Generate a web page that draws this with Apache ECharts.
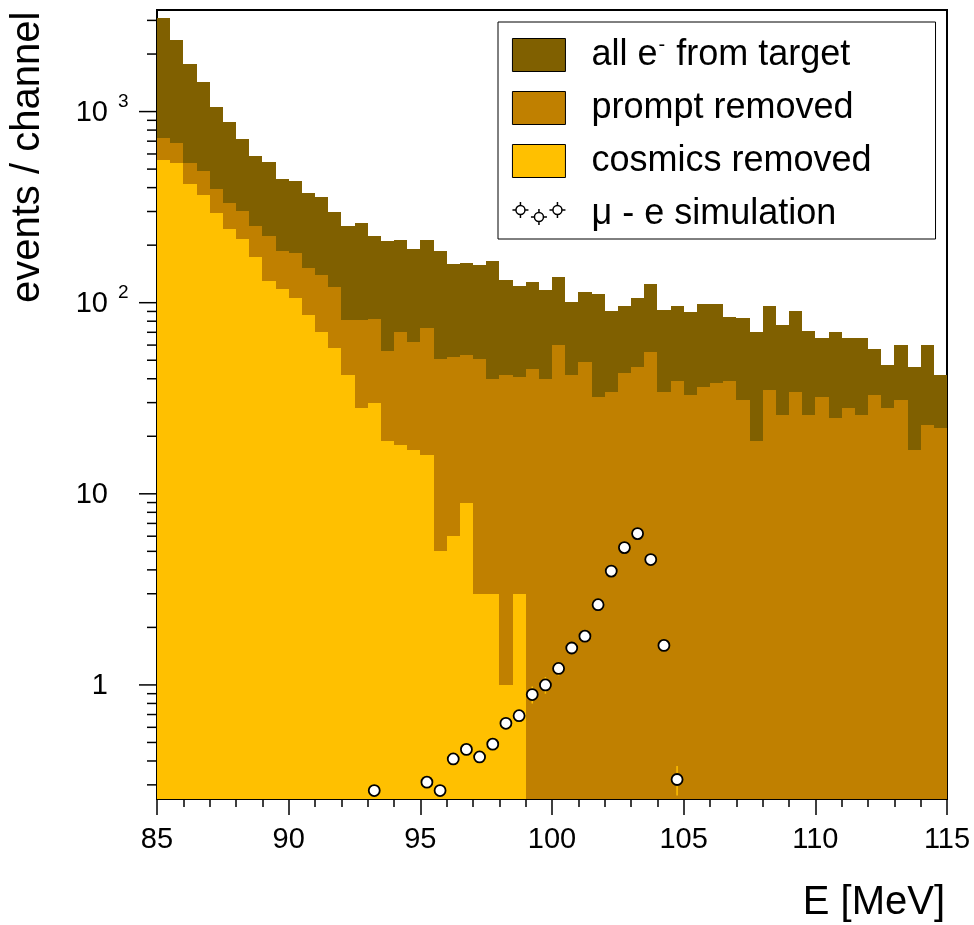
<!DOCTYPE html>
<html>
<head>
<meta charset="utf-8">
<script src="https://cdn.jsdelivr.net/npm/echarts@6.0.0/dist/echarts.min.js"></script>
<style>
  html, body { margin: 0; padding: 0; background: #fff; }
  #chart { width: 974px; height: 925px; }
</style>
</head>
<body>
<div id="chart"></div>
<script>
const FONT = '"Liberation Sans", Arial, Helvetica, sans-serif';

// histogram binning: 60 channels of 0.5 MeV from 85 MeV
const binWidth = 0.5;
const binEdges = Array.from({ length: 60 }, (_, i) => 85 + binWidth * i);

const seriesNames = ['all e- from target', 'prompt removed', 'cosmics removed', 'μ - e simulation'];

const allElectrons = [3070, 2370, 1770, 1430, 1054, 880, 717, 586, 547, 443,
  432, 374, 357, 300, 253, 262, 223, 211, 213, 192,
  213, 187, 159, 162, 158, 165, 132, 123, 128, 117,
  136, 101, 114, 111, 91, 96, 106, 125, 92, 96,
  89, 99, 98, 84, 83, 70, 96, 76, 91, 71,
  65, 70, 65, 65, 57, 47, 60, 46, 60, 42];

const promptRemoved = [731, 686, 539, 489, 394, 332, 302, 252, 224, 187,
  182, 151, 139, 121, 81, 81, 82, 56, 70, 62,
  74, 51, 52, 53, 51, 40, 42, 41, 45, 40,
  60, 42, 49, 32, 34, 43, 46, 55, 34, 39,
  33, 36, 38, 39, 31, 19, 35, 26, 34, 26,
  32, 25, 28, 26, 33, 28, 31, 17, 23, 22];

const cosmicsRemoved = [557, 537, 418, 365, 293, 242, 216, 174, 130, 118,
  106, 86, 70, 58, 42, 28, 30, 19, 18, 17,
  16, 5, 6, 9, 3, 3, 1, 3, 0, 0,
  0, 0, 0, 0, 0, 0, 0, 0, 0, 0,
  0, 0, 0, 0, 0, 0, 0, 0, 0, 0,
  0, 0, 0, 0, 0, 0, 0, 0, 0, 0];

// mu -> e conversion simulation (bin centres)
const simEnergy = [93.25, 95.25, 95.75, 96.25, 96.75, 97.25, 97.75, 98.25, 98.75, 99.25,
  99.75, 100.25, 100.75, 101.25, 101.75, 102.25, 102.75, 103.25, 103.75, 104.25, 104.75];
const simCounts = [0.28, 0.31, 0.28, 0.41, 0.46, 0.42, 0.49, 0.63, 0.69, 0.89,
  1.0, 1.22, 1.56, 1.8, 2.63, 3.94, 5.23, 6.19, 4.53, 1.61, 0.32];
const simErrors = [0.03, 0.03, 0.03, 0.04, 0.04, 0.04, 0.05, 0.06, 0.07, 0.09,
  0.1, 0.1, 0.11, 0.12, 0.14, 0.16, 0.18, 0.2, 0.17, 0.1, 0.056];

// axes
const xMin = 85, xMax = 115;
const yMin = 0.253, yMax = 3400;
const yMajorTicks = [1, 10, 100, 1000];
const yLabelBase = ['1', '10', '10', '10'];
const yLabelExp = ['', '', '2', '3'];
const yMinorTicks = [0.3, 0.4, 0.5, 0.6, 0.7, 0.8, 0.9,
  2, 3, 4, 5, 6, 7, 8, 9,
  20, 30, 40, 50, 60, 70, 80, 90,
  200, 300, 400, 500, 600, 700, 800, 900,
  2000, 3000];

const colors = ['#806000', '#c08000', '#ffc000'];

function histRender(params, api) {
  const v = api.value(1);
  if (!(v > 0)) return null;
  const lo = api.value(0);
  const a = api.coord([lo, v]);
  const b = api.coord([lo + binWidth, yMin]);
  const x0 = Math.round(a[0]), x1 = Math.round(b[0]);
  const y0 = Math.round(a[1]);
  return {
    type: 'rect',
    shape: { x: x0, y: y0, width: x1 - x0, height: b[1] - y0 },
    style: { fill: api.visual('color') }
  };
}

function tickRender(len) {
  return function (params, api) {
    const p = api.coord([api.value(0), api.value(1)]);
    return {
      type: 'line',
      shape: { x1: p[0] - len, y1: p[1], x2: p[0], y2: p[1] },
      style: { stroke: '#000', lineWidth: 1.5 }
    };
  };
}

function yLabelRender(params, api) {
  const p = api.coord([api.value(0), api.value(1)]);
  const i = params.dataIndex;
  const kids = [{
    type: 'text', x: p[0] - 49, y: p[1] + 1,
    style: { text: yLabelBase[i], font: '29px ' + FONT, fill: '#000', textAlign: 'right', textVerticalAlign: 'middle' }
  }];
  if (yLabelExp[i]) {
    kids.push({
      type: 'text', x: p[0] - 39, y: p[1] - 10,
      style: { text: yLabelExp[i], font: '19px ' + FONT, fill: '#000', textAlign: 'left', textVerticalAlign: 'middle' }
    });
  }
  return { type: 'group', children: kids };
}

function errRender(params, api) {
  const x = api.value(0), v = api.value(1), e = api.value(2);
  const hi = api.coord([x, v + e]);
  const lo = api.coord([x, Math.max(v - e, yMin)]);
  return {
    type: 'line',
    shape: { x1: hi[0], y1: hi[1], x2: lo[0], y2: lo[1] },
    style: { stroke: '#ffc000', lineWidth: 1.5 }
  };
}

function histSeries(name, values, color) {
  return {
    name: name,
    type: 'custom',
    renderItem: histRender,
    itemStyle: { color: color },
    silent: true,
    data: binEdges.map((e, i) => [e, values[i]]).filter(d => d[1] > 0)
  };
}

// legend marker for the simulation: three open circles with small bars
function circlePath(cx, cy, r) {
  return 'M' + (cx - r) + ',' + cy + 'A' + r + ',' + r + ',0,1,0,' + (cx + r) + ',' + cy +
    'A' + r + ',' + r + ',0,1,0,' + (cx - r) + ',' + cy + 'Z';
}
function markerPath(cx, cy, r, arm) {
  return circlePath(cx, cy, r) +
    'M' + (cx - arm) + ',' + cy + 'L' + (cx - r) + ',' + cy +
    'M' + (cx + r) + ',' + cy + 'L' + (cx + arm) + ',' + cy +
    'M' + cx + ',' + (cy - arm) + 'L' + cx + ',' + (cy - r) +
    'M' + cx + ',' + (cy + r) + 'L' + cx + ',' + (cy + arm);
}
const simIcon = 'path://M0,0M53,33' + markerPath(8, 12.5, 4.5, 8) + markerPath(26.5, 19.5, 4.5, 8) + markerPath(45, 12.5, 4.5, 8);

const chart = echarts.init(document.getElementById('chart'), null, { renderer: 'canvas' });

const option = {
  animation: false,
  backgroundColor: '#fff',
  grid: {
    left: 157, right: 27, top: 10, bottom: 126,
    show: true, borderColor: '#000', borderWidth: 2,
    containLabel: false, outerBoundsMode: 'none'
  },
  legend: {
    orient: 'vertical',
    left: 498, top: 22,
    padding: [13, 64, 5, 13.7],
    itemWidth: 53, itemHeight: 33, itemGap: 13,
    backgroundColor: '#fff', borderColor: '#000', borderWidth: 1,
    selectedMode: false,
    itemStyle: { borderColor: '#000', borderWidth: 1 },
    textStyle: {
      fontFamily: FONT, fontSize: 36, color: '#000', lineHeight: 40, padding: [0, 0, 0, 21],
      rich: {
        n: { fontFamily: FONT, fontSize: 36, color: '#000', lineHeight: 40 },
        s: { fontFamily: FONT, fontSize: 20, color: '#000', lineHeight: 8, verticalAlign: 'top', padding: [0, 1, 0, 1] }
      }
    },
    formatter: function (name) {
      if (name === seriesNames[0]) return '{n|all e}{s|-}{n| from target}';
      return name;
    },
    data: [
      { name: seriesNames[0], icon: 'rect' },
      { name: seriesNames[1], icon: 'rect' },
      { name: seriesNames[2], icon: 'rect' },
      { name: seriesNames[3], icon: simIcon, itemStyle: { color: '#fff', borderColor: '#000', borderWidth: 1.5 } }
    ]
  },
  xAxis: {
    type: 'value', min: xMin, max: xMax, interval: 5,
    axisLine: { show: true, onZero: false, lineStyle: { color: '#000', width: 2 } },
    axisTick: { show: true, inside: false, length: 16, lineStyle: { color: '#000', width: 1.5 } },
    minorTick: { show: true, splitNumber: 5, length: 8, lineStyle: { color: '#000', width: 1.5 } },
    axisLabel: { fontFamily: FONT, fontSize: 29, color: '#000', margin: 26 },
    splitLine: { show: false },
    minorSplitLine: { show: false }
  },
  yAxis: {
    type: 'log', logBase: 10, min: yMin, max: yMax,
    axisLine: { show: true, onZero: false, lineStyle: { color: '#000', width: 2 } },
    axisTick: { show: false },
    minorTick: { show: false },
    axisLabel: { show: false },
    splitLine: { show: false }
  },
  graphic: [
    {
      type: 'text', x: 47.8, y: 11.7, rotation: Math.PI / 2,
      style: { text: 'events / channel', font: '40px ' + FONT, fill: '#000', textAlign: 'right', textVerticalAlign: 'bottom' }
    },
    {
      type: 'text', x: 945, y: 922.8,
      style: { text: 'E [MeV]', font: '40px ' + FONT, fill: '#000', textAlign: 'right', textVerticalAlign: 'bottom' }
    }
  ],
  series: [
    histSeries(seriesNames[0], allElectrons, colors[0]),
    histSeries(seriesNames[1], promptRemoved, colors[1]),
    histSeries(seriesNames[2], cosmicsRemoved, colors[2]),
    {
      name: 'errors', type: 'custom', renderItem: errRender, silent: true,
      data: simEnergy.map((e, i) => [e, simCounts[i], simErrors[i]])
    },
    {
      name: seriesNames[3], type: 'scatter', symbol: 'circle', symbolSize: 11,
      itemStyle: { color: '#fff', borderColor: '#000', borderWidth: 1.8, opacity: 1 },
      silent: true,
      data: simEnergy.map((e, i) => [e, simCounts[i]])
    },
    {
      name: 'yMajor', type: 'custom', renderItem: tickRender(18), silent: true,
      data: yMajorTicks.map(v => [xMin, v])
    },
    {
      name: 'yMinor', type: 'custom', renderItem: tickRender(10), silent: true,
      data: yMinorTicks.map(v => [xMin, v])
    },
    {
      name: 'yLabels', type: 'custom', renderItem: yLabelRender, silent: true,
      data: yMajorTicks.map(v => [xMin, v])
    }
  ]
};

chart.setOption(option);
window.onresize = function () { chart.resize(); };
</script>
</body>
</html>
